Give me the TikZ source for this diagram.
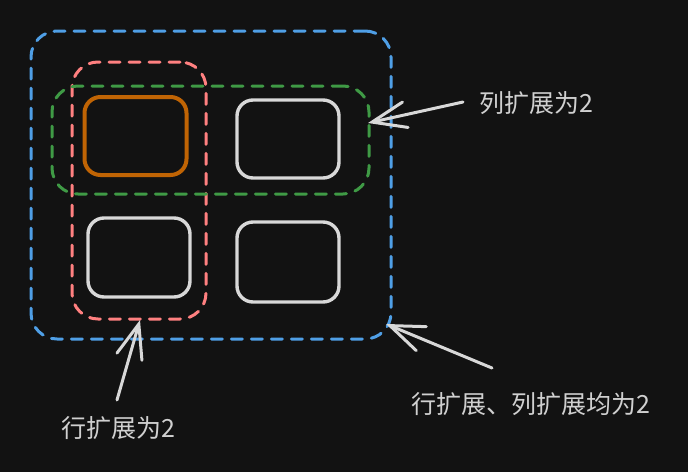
\documentclass[tikz,border=0pt]{standalone}
\usepackage{fontspec}
\newfontfamily\cjk{Noto Sans CJK SC}
\usetikzlibrary{arrows.meta}
\definecolor{bg}{HTML}{121212}
\definecolor{cblue}{HTML}{4F9FE6}
\definecolor{cred}{HTML}{FF8080}
\definecolor{cgreen}{HTML}{3F9A45}
\definecolor{corange}{HTML}{C06404}
\definecolor{cwhite}{HTML}{D8D8D8}
\definecolor{ctext}{HTML}{D0D0D0}
\tikzset{
  grp/.style={draw, dash pattern=on 11pt off 9pt, line width=3pt, line cap=round, rounded corners=26pt, inner sep=0pt, outer sep=0pt},
  cell/.style={draw, line width=3.4pt, rounded corners=16pt, inner sep=0pt, outer sep=0pt, minimum width=102pt, minimum height=78pt},
  lab/.style={text=ctext, font=\cjk\fontsize{25}{30}\selectfont, inner sep=0pt, anchor=west},
  arr/.style={draw=cwhite, line width=3pt, line cap=round, line join=round, -{Straight Barb[length=34pt,width=26pt,line cap=round]}}
}
\begin{document}
\begin{tikzpicture}[x=1pt,y=-1pt]
\fill[bg] (0,0) rectangle (688,472);
\useasboundingbox (0,0) rectangle (688,472);
% cells
\node[cell, draw=corange, line width=4pt] (c11) at (135.5,136) {};
\node[cell, draw=cwhite] (c12) at (288,139) {};
\node[cell, draw=cwhite, minimum height=79pt] (c21) at (139,257.5) {};
\node[cell, draw=cwhite, minimum height=80pt] (c22) at (288,262) {};
% groups
\node[grp, draw=cblue, minimum width=360pt, minimum height=308pt] (outer) at (211,185) {};
\node[grp, draw=cred, minimum width=134pt, minimum height=257pt] (rowspan) at (139,190.5) {};
\node[grp, draw=cgreen, minimum width=317pt, minimum height=108pt] (colspan) at (210.5,140) {};
% labels
\node[lab] (l1) at (479,103) {列扩展为2};
\node[lab] (l2) at (61,428) {行扩展为2};
\node[lab] (l3) at (411,404) {行扩展、列扩展均为2};
% arrow ends
\coordinate (t1) at (463,102);
\coordinate (h1) at (368,123);
\coordinate (t2) at (117,400);
\coordinate (h2) at (140,320);
\coordinate (t3) at (492,368);
\coordinate (h3) at (386,324);
\draw[arr] (t1) -- (h1);
\draw[arr] (t2) -- (h2);
\draw[arr] (t3) -- (h3);
\end{tikzpicture}
\end{document}
